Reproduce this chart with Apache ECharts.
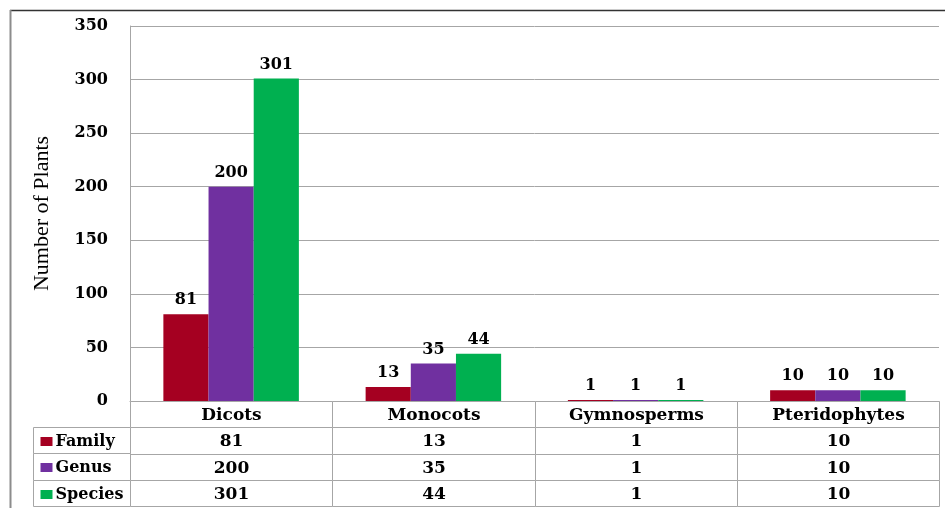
<!DOCTYPE html>
<html>
<head>
<meta charset="utf-8">
<script src="https://cdn.jsdelivr.net/npm/echarts@6/dist/echarts.min.js"></script>
<style>
  html, body { margin: 0; padding: 0; background: #ffffff; }
  #chart { width: 945px; height: 508px; }
</style>
</head>
<body>
<div id="chart"></div>
<script>
// Plant groups and counts per taxonomic rank
const categories = ['Dicots', 'Monocots', 'Gymnosperms', 'Pteridophytes'];
const seriesNames = ['Family', 'Genus', 'Species'];
const family = [81, 13, 1, 10];
const genus = [200, 35, 1, 10];
const species = [301, 44, 1, 10];
const yMin = 0, yMax = 350, yStep = 50;

const colors = ['#a50021', '#7030a0', '#00b050'];
const seriesValues = [family, genus, species];

const TABLE_FONT = 'bold 17px "DejaVu Serif"';
const LEGEND_FONT = 'bold 16px "DejaVu Serif"';
const LINE = '#a6a6a6';

// Data-table rows: header row of group names, then one row per rank
const tableRows = [categories].concat(seriesValues.map(v => v.map(String)));
const tableCells = [];
tableRows.forEach((row, r) => row.forEach((t, c) => tableCells.push([c, r, t])));
const legendCells = seriesNames.map((n, r) => [0, r, n]);

// Pixel-snapped cell box so neighbouring cells share their edges
function cellRect(api) {
  const p = api.coord([api.value(0), api.value(1)]);
  const s = api.size([1, 1]);
  const x0 = Math.round(p[0] - s[0] / 2), x1 = Math.round(p[0] + s[0] / 2);
  const y0 = Math.round(p[1] - s[1] / 2), y1 = Math.round(p[1] + s[1] / 2);
  return { x: x0 + 0.5, y: y0 + 0.5, width: x1 - x0, height: y1 - y0 };
}

const chart = echarts.init(document.getElementById('chart'), null, { renderer: 'canvas' });

chart.setOption({
  animation: false,
  backgroundColor: '#ffffff',
  grid: [
    { left: 130, right: 6, top: 26, bottom: 107 },          // bars
    { left: 130, right: 6, top: 401, bottom: 2 },           // value table
    { left: 33, width: 97, top: 427, bottom: 2 }            // rank labels
  ],
  xAxis: [
    {
      gridIndex: 0, type: 'category', data: categories,
      axisLine: { show: true, lineStyle: { color: LINE, width: 1 } },
      axisTick: { show: false }, axisLabel: { show: false }, splitLine: { show: false }
    },
    { gridIndex: 1, type: 'category', data: categories, show: false },
    { gridIndex: 2, type: 'category', data: [''], show: false }
  ],
  yAxis: [
    {
      gridIndex: 0, type: 'value', min: yMin, max: yMax, interval: yStep,
      name: 'Number of Plants', nameLocation: 'middle', nameGap: 77,
      nameTextStyle: { fontFamily: '"Liberation Serif"', fontSize: 22, color: '#000' },
      axisLine: { show: true, lineStyle: { color: LINE, width: 1 } },
      axisTick: { show: false },
      axisLabel: { margin: 22, color: '#000', fontFamily: '"DejaVu Serif"', fontWeight: 'bold', fontSize: 16 },
      splitLine: { lineStyle: { color: LINE, width: 1 } }
    },
    { gridIndex: 1, type: 'category', data: [0, 1, 2, 3], inverse: true, show: false },
    { gridIndex: 2, type: 'category', data: [0, 1, 2], inverse: true, show: false }
  ],
  series: seriesValues.map((vals, i) => ({
    type: 'bar',
    name: seriesNames[i],
    xAxisIndex: 0, yAxisIndex: 0,
    data: vals,
    barGap: '0%',
    barCategoryGap: '33%',
    itemStyle: { color: colors[i] },
    label: {
      show: true, position: 'top', distance: 6,
      color: '#000', fontFamily: '"DejaVu Serif"', fontWeight: 'bold', fontSize: 16
    }
  })).concat([
    {
      type: 'custom',
      xAxisIndex: 1, yAxisIndex: 1,
      data: tableCells,
      encode: { x: 0, y: 1 },
      renderItem: (params, api) => {
        const r = cellRect(api);
        const text = tableCells[params.dataIndex][2];
        return {
          type: 'group',
          children: [
            { type: 'rect', shape: r, style: { fill: '#fff', stroke: LINE, lineWidth: 1 } },
            {
              type: 'text',
              style: {
                text: text, x: r.x + r.width / 2, y: r.y + r.height / 2 + 1,
                align: 'center', verticalAlign: 'middle', font: TABLE_FONT, fill: '#000'
              }
            }
          ]
        };
      }
    },
    {
      type: 'custom',
      xAxisIndex: 2, yAxisIndex: 2,
      data: legendCells,
      encode: { x: 0, y: 1 },
      renderItem: (params, api) => {
        const r = cellRect(api);
        const idx = params.dataIndex;
        return {
          type: 'group',
          children: [
            { type: 'rect', shape: r, style: { fill: '#fff', stroke: LINE, lineWidth: 1 } },
            {
              type: 'rect',
              shape: { x: r.x + 7, y: Math.round(r.y + r.height / 2 - 4), width: 12, height: 9 },
              style: { fill: colors[idx] }
            },
            {
              type: 'text',
              style: {
                text: legendCells[idx][2], x: r.x + 22, y: r.y + r.height / 2 + 1,
                align: 'left', verticalAlign: 'middle', font: LEGEND_FONT, fill: '#000'
              }
            }
          ]
        };
      }
    }
  ]),
  graphic: [
    { type: 'line', shape: { x1: 10, y1: 10.5, x2: 945, y2: 10.5 }, style: { stroke: '#333', lineWidth: 1.5 } },
    { type: 'line', shape: { x1: 10.5, y1: 10, x2: 10.5, y2: 508 }, style: { stroke: '#8c8c8c', lineWidth: 2 } }
  ]
});
</script>
</body>
</html>
